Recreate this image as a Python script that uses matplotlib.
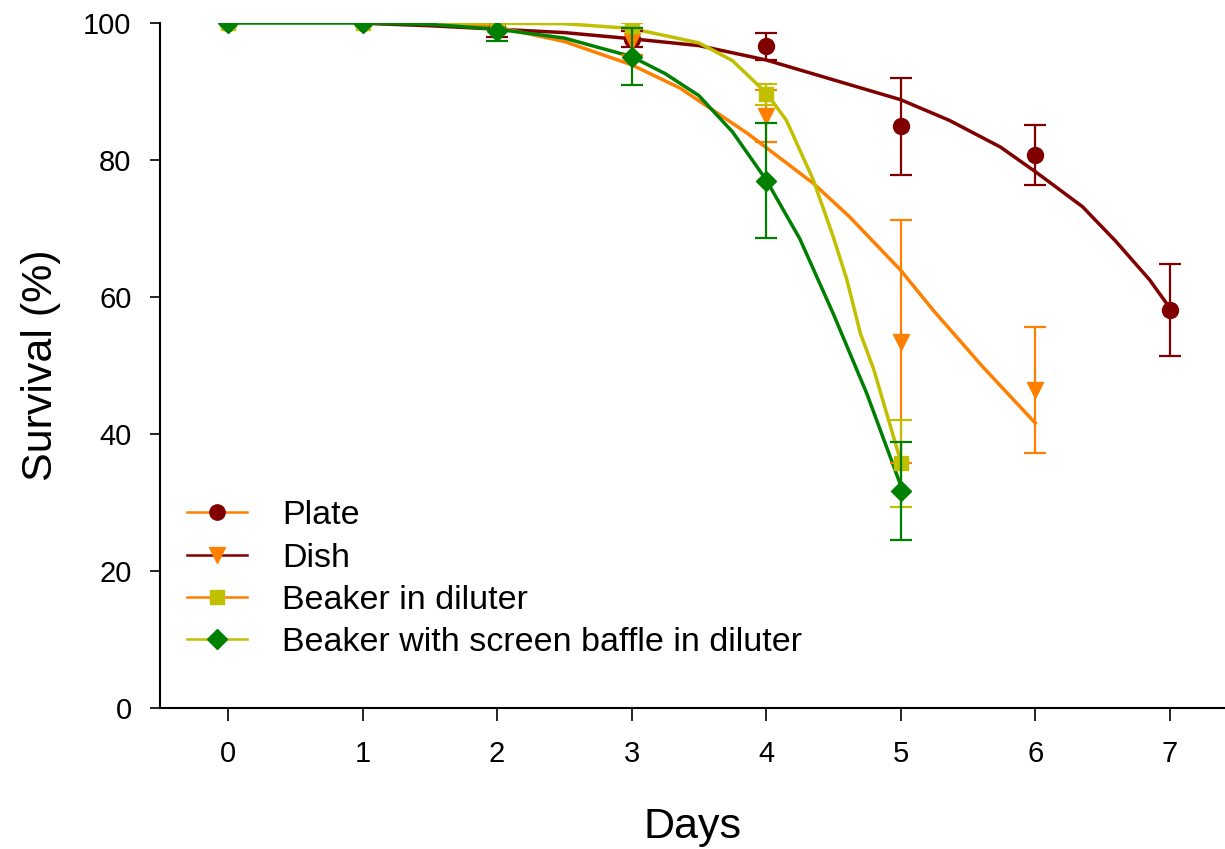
import numpy as np
import matplotlib.pyplot as plt
from matplotlib.lines import Line2D

plt.rcParams['font.family'] = ['Liberation Sans', 'DejaVu Sans']

# observed points (mean survival, % and error)
days = np.array([0, 1, 2, 3, 4, 5, 6, 7])

plate = np.array([100, 100, 99.3, 97.7, 96.6, 84.9, 80.7, 58.1])
plate_err = np.array([0, 0, 1.3, 1.2, 2.0, 7.1, 4.4, 6.7])

dish = np.array([100, 100, 100, 97.3, 86.4, 53.5, 46.4])
dish_err = np.array([0, 0, 0, 2.0, 3.8, 17.7, 9.2])

beaker = np.array([100, 100, 100, 99.6, 89.6, 35.7])
beaker_err = np.array([0, 0, 0, 0.4, 1.5, 6.3])

baffle = np.array([100, 100, 98.8, 95.1, 77.0, 31.7])
baffle_err = np.array([0, 0, 1.4, 4.1, 8.4, 7.2])

# fitted survival curves
plate_fit_x = [0.96, 1.5, 2.0, 2.5, 3.0, 3.5, 4.0, 4.5, 5.0, 5.36, 5.74, 6.0, 6.35, 6.6, 6.85, 7.0]
plate_fit_y = [100, 99.6, 99.1, 98.6, 97.7, 96.7, 94.6, 91.7, 88.8, 85.8, 81.9, 78.3, 73.2, 68.1, 62.5, 58.4]

dish_fit_x = [1.66, 2.0, 2.5, 3.0, 3.36, 3.86, 4.35, 4.62, 5.0, 5.24, 5.61, 6.0]
dish_fit_y = [100, 99.4, 97.3, 93.9, 90.5, 83.9, 76.6, 71.7, 63.9, 58.1, 49.8, 41.6]

beaker_fit_x = [1.59, 2.5, 3.0, 3.5, 3.75, 4.0, 4.15, 4.35, 4.5, 4.6, 4.7, 4.8, 4.9, 5.0]
beaker_fit_y = [100, 99.9, 99.2, 97.1, 94.5, 89.8, 85.8, 77.1, 68.7, 62.5, 54.7, 49.4, 42.7, 36.0]

baffle_fit_x = [0, 1, 1.5, 2.0, 2.5, 3.0, 3.25, 3.5, 3.75, 4.0, 4.25, 4.5, 4.75, 5.0]
baffle_fit_y = [100, 100, 99.8, 99.1, 97.8, 95.1, 92.6, 89.4, 84.1, 77.1, 68.5, 57.5, 45.8, 32.5]

labels = ['Plate', 'Dish', 'Beaker in diluter', 'Beaker with screen baffle in diluter']

dark_red = '#800000'
orange = '#ff8000'
olive = '#c0c000'
green = '#008000'

fig = plt.figure(figsize=(12.25, 8.49), dpi=100)
ax = fig.add_axes([160 / 1225, 1 - 708 / 849, 1 - 160 / 1225, (708 - 23) / 849])

# curves
ax.plot(plate_fit_x, plate_fit_y, color=dark_red, lw=2.5, zorder=2)
ax.plot(dish_fit_x, dish_fit_y, color=orange, lw=2.5, zorder=2)
ax.plot(beaker_fit_x, beaker_fit_y, color=olive, lw=2.5, zorder=2)
ax.plot(baffle_fit_x, baffle_fit_y, color=green, lw=2.5, zorder=2)

# points with error bars
series = [
    (plate, plate_err, dark_red, 'o', 11.5),
    (dish, dish_err, orange, 'v', 12),
    (beaker, beaker_err, olive, 's', 10.5),
    (baffle, baffle_err, green, 'D', 10.5),
]
z = 3
for vals, errs, col, mk, ms in series:
    x = days[:len(vals)]
    m = errs > 0
    ax.errorbar(x[m], vals[m], yerr=errs[m], fmt='none', ecolor=col,
                elinewidth=1.6, capsize=8, capthick=1.6, zorder=z)
    ax.plot(x, vals, linestyle='none', marker=mk, ms=ms, color=col,
            markeredgecolor=col, zorder=z + 0.5)
    z += 1

ax.set_xlim(-0.505, 7.41)
ax.set_ylim(0, 100)
ax.set_xticks(range(8))
ax.set_yticks(range(0, 101, 20))
ax.spines['top'].set_visible(False)
ax.spines['right'].set_visible(False)
ax.spines['left'].set_linewidth(1.5)
ax.spines['bottom'].set_linewidth(1.5)
ax.tick_params(axis='y', direction='out', length=7.5, width=1.2, labelsize=21, pad=13)
ax.tick_params(axis='x', direction='out', length=9, width=1.2, labelsize=21, pad=14)
ax.set_xlabel('Days', fontsize=31, labelpad=28)
ax.set_ylabel('Survival (%)', fontsize=31, labelpad=16)

# legend (line and marker colours as in the original)
handles = [
    Line2D([], [], color=orange, lw=1.8, marker='o', ms=11, markerfacecolor=dark_red, markeredgecolor=dark_red),
    Line2D([], [], color=dark_red, lw=1.8, marker='v', ms=12, markerfacecolor=orange, markeredgecolor=orange),
    Line2D([], [], color=orange, lw=1.8, marker='s', ms=10, markerfacecolor=olive, markeredgecolor=olive),
    Line2D([], [], color=olive, lw=1.8, marker='D', ms=10, markerfacecolor=green, markeredgecolor=green),
]
fig.legend(handles, labels, loc='lower left', bbox_to_anchor=(187 / 1225, 1 - 658 / 849),
           frameon=False, fontsize=24.5, handlelength=1.75, handletextpad=1.05,
           labelspacing=0.33, borderpad=0, borderaxespad=0)

fig.savefig('out.png', dpi=100)
